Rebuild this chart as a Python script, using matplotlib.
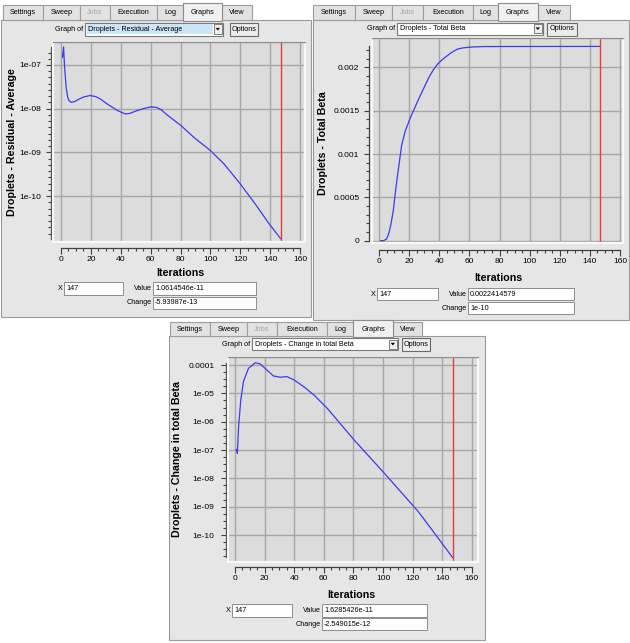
import numpy as np
import matplotlib
matplotlib.use('Agg')
import matplotlib.pyplot as plt
from matplotlib.patches import Rectangle, Polygon
from matplotlib.ticker import FixedLocator, NullFormatter

plt.rcParams['font.family'] = ['Liberation Sans', 'DejaVu Sans']

# --- data ---
tab_names = ['Settings', 'Sweep', 'Jobs', 'Execution', 'Log', 'Graphs', 'View']
x_ticks = [0, 20, 40, 60, 80, 100, 120, 140, 160]
current_iter = 147

res_x = [1, 1.7, 2.5, 3.5, 4.5, 5.5, 7, 9, 12, 15, 19.5, 23, 26, 30, 34, 38, 43, 46, 50,
         55, 60, 64, 67, 71, 80, 89, 100, 109, 120, 130, 139, 147]
res_y = [1.5e-7, 2.6e-7, 8e-8, 3e-8, 1.8e-8, 1.5e-8, 1.4e-8, 1.45e-8, 1.65e-8, 1.85e-8,
         2.0e-8, 1.9e-8, 1.7e-8, 1.35e-8, 1.1e-8, 9e-9, 7.6e-9, 7.8e-9, 8.8e-9, 1.0e-8,
         1.1e-8, 1.07e-8, 9.5e-9, 7.2e-9, 4.2e-9, 2.2e-9, 1.1e-9, 5.5e-10, 1.9e-10,
         6.6e-11, 2.4e-11, 1.0614546e-11]
res_yticks = [1e-10, 1e-9, 1e-8, 1e-7]
res_ylabels = ['1e-10', '1e-09', '1e-08', '1e-07']

beta_x = [1, 3, 5, 6, 7, 8, 9.5, 11, 12.8, 15, 17.3, 20.6, 23.9, 27, 30, 33, 36, 39, 42,
          45, 48, 52, 56, 62, 70, 147]
beta_y = [0.0, 0.0, 0.00002, 0.00006, 0.00012, 0.0002, 0.00035, 0.00058, 0.00082, 0.0011,
          0.00126, 0.00141, 0.00154, 0.00166, 0.00177, 0.00188, 0.00197, 0.00204, 0.00209,
          0.00213, 0.00217, 0.00221, 0.002225, 0.002235, 0.00224, 0.0022414579]
beta_yticks = [0, 0.0005, 0.001, 0.0015, 0.002]
beta_ylabels = ['0', '0.0005', '0.001', '0.0015', '0.002']

chg_x = [0.8, 1.6, 2.4, 3.9, 5.7, 9.1, 13.6, 17, 21.6, 26, 30.7, 35, 39.8, 46.6, 53.4,
         62.5, 80.7, 101, 124, 147]
chg_y = [1.05e-7, 7.5e-8, 6.6e-7, 5.8e-6, 2.6e-5, 7.6e-5, 1.2e-4, 1.1e-4, 6.6e-5, 4.1e-5,
         3.7e-5, 3.9e-5, 3.0e-5, 1.7e-5, 8.7e-6, 2.9e-6, 2.2e-7, 1.5e-8, 6.6e-10,
         1.6285426e-11]
chg_yticks = [1e-10, 1e-9, 1e-8, 1e-7, 1e-6, 1e-5, 1e-4]
chg_ylabels = ['1e-10', '1e-09', '1e-08', '1e-07', '1e-06', '1e-05', '0.0001']

graph_names = ['Droplets - Residual - Average', 'Droplets - Total Beta',
               'Droplets - Change in total Beta']
values = ['1.0614546e-11', '0.0022414579', '1.6285426e-11']
changes = ['-5.93987e-13', '1e-10', '-2.549015e-12']

W, H = 630, 643
GUI = 5.2
fig = plt.figure(figsize=(W / 100, H / 100), dpi=100)
fig.patch.set_facecolor('white')
cv = fig.add_axes([0, 0, 1, 1])
cv.set_xlim(0, W)
cv.set_ylim(H, 0)
cv.axis('off')


def rect(x0, y0, x1, y1, fc, ec='none', lw=0.8, z=1):
    cv.add_patch(Rectangle((x0, y0), x1 - x0, y1 - y0, facecolor=fc, edgecolor=ec, lw=lw, zorder=z))


def txt(x, y, s, ha='left', size=GUI, color='black', **kw):
    cv.text(x, y, s, ha=ha, va='center', fontsize=size, color=color, zorder=5, **kw)


def gui(edges, tab_top, tab_bot, body, combo, opt, name, highlight, boxes):
    # panel body
    rect(body[0], tab_bot, body[1], body[2], '#e6e6e6', '#9a9a9a', 0.8, 0)
    # tabs
    for i, lab in enumerate(tab_names):
        x0, x1 = edges[i], edges[i + 1]
        if lab == 'Graphs':
            rect(x0, tab_top - 2, x1, tab_bot + 0.5, '#f0f0f0', '#8d8d8d', 0.8, 2)
        else:
            rect(x0, tab_top, x1, tab_bot, '#e2e2e2', '#9d9d9d', 0.8, 1)
        txt((x0 + x1) / 2, (tab_top + tab_bot) / 2 + 0.5, lab, ha='center',
            color='#a8a8a8' if lab == 'Jobs' else 'black')
    # combo box
    cx0, cy0, cx1, cy1 = combo
    txt(cx0 - 2, (cy0 + cy1) / 2, 'Graph of', ha='right')
    rect(cx0, cy0, cx1, cy1, 'white', '#7a7a7a', 0.8, 2)
    if highlight:
        rect(cx0 + 1.5, cy0 + 1.5, cx1 - 10, cy1 - 1.5, '#cbe5f8', 'none', 0, 2)
    rect(cx1 - 9, cy0 + 1.5, cx1 - 1.5, cy1 - 1.5, '#eeeeee', '#6a6a6a', 0.6, 3)
    ax_c = cx1 - 5.2
    ay_c = (cy0 + cy1) / 2
    cv.add_patch(Polygon([[ax_c - 2.2, ay_c - 1.2], [ax_c + 2.2, ay_c - 1.2], [ax_c, ay_c + 1.4]],
                         closed=True, facecolor='black', zorder=4))
    txt(cx0 + 3, (cy0 + cy1) / 2, name)
    # options button
    ox0, oy0, ox1, oy1 = opt
    rect(ox0, oy0, ox1, oy1, '#ececec', '#6a6a6a', 0.8, 2)
    txt((ox0 + ox1) / 2, (oy0 + oy1) / 2, 'Options', ha='center')
    # value boxes
    for (lab, bx) in boxes:
        rect(bx[0], bx[1], bx[2], bx[3], 'white', '#8c8c8c', 0.7, 2)
        txt(bx[0] - 1, (bx[1] + bx[3]) / 2, lab[0], ha='right')
        txt(bx[0] + 2, (bx[1] + bx[3]) / 2, lab[1])


def px_axes(l, t, r, b):
    return fig.add_axes([l / W, 1 - b / H, (r - l) / W, (b - t) / H])


def graph(pos, xs, ys, xlim, ylim, log, yt, ytl, yminor, out_l, out_b, ypad):
    ax = px_axes(*pos)
    ax.set_facecolor('#dcdcdc')
    if log:
        ax.set_yscale('log')
    ax.plot(xs, ys, color='#3b3bf0', lw=0.9, zorder=3)
    ax.axvline(current_iter, color='#ec3a3a', lw=1.0, zorder=4)
    ax.set_xlim(xlim)
    ax.set_ylim(ylim)
    for s in ['top', 'right']:
        ax.spines[s].set_visible(False)
    for s in ['left', 'bottom']:
        ax.spines[s].set_color('#404040')
        ax.spines[s].set_linewidth(0.9)
    ax.spines['left'].set_position(('outward', out_l))
    ax.spines['bottom'].set_position(('outward', out_b))
    ax.spines['left'].set_bounds(min(ys), max(ys))
    ax.spines['bottom'].set_bounds(0, 160)
    ax.yaxis.set_major_locator(FixedLocator(yt))
    ax.set_yticklabels(ytl)
    ax.yaxis.set_minor_locator(FixedLocator(yminor))
    ax.yaxis.set_minor_formatter(NullFormatter())
    ax.xaxis.set_major_locator(FixedLocator(x_ticks))
    ax.set_xticklabels([str(v) for v in x_ticks])
    ax.xaxis.set_minor_locator(FixedLocator(np.arange(0, 161, 5)))
    ax.tick_params(axis='both', which='both', colors='#404040', labelcolor='black',
                   labelsize=6.1, width=0.8)
    ax.tick_params(axis='y', which='major', length=3.6, pad=ypad)
    ax.tick_params(axis='y', which='minor', length=2.0)
    ax.tick_params(axis='x', which='major', length=4.3, pad=1.5)
    ax.tick_params(axis='x', which='minor', length=2.2)
    ax.grid(True, which='major', color='#a6a6a6', lw=1.0)
    ax.set_axisbelow(True)
    ax.add_patch(Rectangle((0, 0), 1, 1, transform=ax.transAxes, fill=False, ec='#f8f8f8',
                           lw=1.6, zorder=5, clip_on=False))
    ax.plot([0, 1], [1, 1], transform=ax.transAxes, color='#8c8c8c', lw=1.0,
            clip_on=False, zorder=6)
    return ax


# ---------- panel 1 : residual ----------
gui([3, 43, 80, 110, 157, 183, 222, 252], 5, 20, (1, 311, 317),
    (85, 22.7, 223, 35.5), (230, 22.5, 258, 36), graph_names[0], True,
    [(('X', '147'), (64, 282, 123, 295)),
     (('Value', values[0]), (153, 282, 256, 295)),
     (('Change', changes[0]), (153, 296.5, 256, 308.5))])
lm = np.arange(-11, -6.4, 1 / 7)
res_minor = [10 ** v for v in lm if min(res_y) <= 10 ** v <= max(res_y)]
graph((53, 42, 305, 242), res_x, res_y, (-5.35, 163.3), (10 ** -11.05, 10 ** -6.474), True,
      res_yticks, res_ylabels, res_minor, 1.5, 4.3, 3.1)
cv.text(11.7, 142, 'Droplets - Residual - Average', rotation=90, ha='center', va='center',
        fontsize=7.7, fontweight='bold')
cv.text(180, 273, 'Iterations', ha='center', va='center', fontsize=7.7, fontweight='bold')

# ---------- panel 2 : total beta ----------
gui([313, 355, 392, 423, 473, 498, 538, 570], 5, 20, (313, 629, 320),
    (397, 22.7, 543, 34.5), (547, 22.5, 577, 35.5), graph_names[1], False,
    [(('X', '147'), (377, 288, 438, 300)),
     (('Value', values[1]), (468, 288, 574, 300)),
     (('Change', changes[1]), (468, 302, 574, 314))])
beta_minor = [v for v in np.arange(0, 0.00226, 0.0001) if v <= max(beta_y)]
graph((371.7, 38.3, 623.3, 243.3), beta_x, beta_y, (-4.87, 162.2), (-0.00003, 0.002335), False,
      beta_yticks, beta_ylabels, beta_minor, 1.7, 4.8, 3.6)
cv.text(322.7, 143, 'Droplets - Total Beta', rotation=90, ha='center', va='center',
        fontsize=7.7, fontweight='bold')
cv.text(498.3, 278.3, 'Iterations', ha='center', va='center', fontsize=7.7, fontweight='bold')

# ---------- panel 3 : change in total beta ----------
gui([170, 210, 247, 277, 327, 353, 393, 422], 322, 336, (169, 485, 640),
    (252, 338, 398, 350), (402, 338, 430, 351), graph_names[2], False,
    [(('X', '147'), (232, 604, 292, 617)),
     (('Value', values[2]), (322, 604, 427, 617)),
     (('Change', changes[2]), (322, 618, 427, 630))])
lm3 = np.arange(-11, -3.5, 1 / 4)
chg_minor = [10 ** v for v in lm3 if min(chg_y) <= 10 ** v <= max(chg_y)]
graph((228, 356.7, 478, 561.7), chg_x, chg_y, (-4.73, 164.2), (10 ** -10.94, 10 ** -3.707), True,
      chg_yticks, chg_ylabels, chg_minor, 1.1, 3.6, 5.0)
cv.text(177, 459, 'Droplets - Change in total Beta', rotation=90, ha='center', va='center',
        fontsize=7.7, fontweight='bold')
cv.text(351.7, 595, 'Iterations', ha='center', va='center', fontsize=7.7, fontweight='bold')

fig.savefig('out.png', dpi=100)
